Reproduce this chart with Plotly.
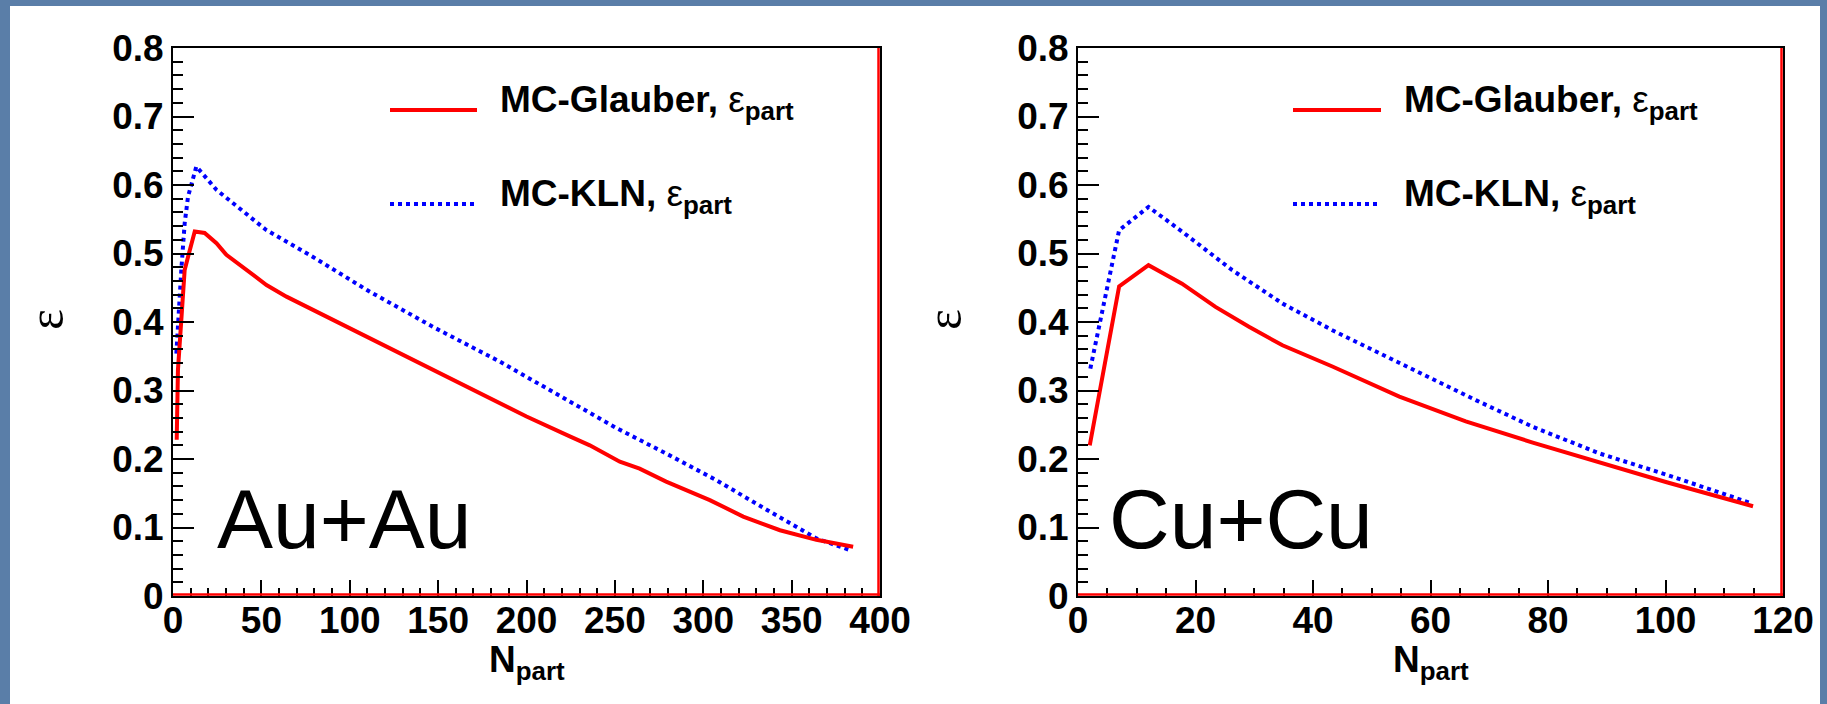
import plotly.graph_objects as go

W, H = 1827, 704

# ---------------- data ----------------
au_glauber_n = [2.1, 2.8, 4.7, 6.6, 8.5, 12.3, 17.9, 24.6, 30.2, 37.7, 45.3, 52.9, 64.2, 100, 137.7, 156.6,
                181, 200, 224.5, 235.8, 252.8, 264, 279, 303.7, 322.6, 343.4, 364, 384.8]
au_glauber_e = [0.228, 0.33, 0.403, 0.476, 0.495, 0.532, 0.53, 0.515, 0.498, 0.483, 0.469, 0.454, 0.437,
                0.391, 0.342, 0.318, 0.286, 0.262, 0.233, 0.22, 0.196, 0.186, 0.167, 0.140, 0.116,
                0.096, 0.082, 0.072]

au_kln_n = [1.9, 2.8, 4.7, 6.6, 8.5, 13.2, 24.6, 52.9, 79.2, 109.5, 147, 185, 222.6, 251, 279, 307.5,
            335.8, 364, 383]
au_kln_e = [0.354, 0.398, 0.476, 0.544, 0.583, 0.627, 0.593, 0.534, 0.495, 0.447, 0.393, 0.342, 0.286,
            0.245, 0.208, 0.169, 0.126, 0.084, 0.067]

cu_glauber_n = [2.0, 7.0, 12.0, 17.7, 23.4, 29.1, 34.8, 43.3, 54.7, 66, 77.4, 88.8, 100.2, 114.9]
cu_glauber_e = [0.22, 0.452, 0.483, 0.456, 0.422, 0.393, 0.366, 0.335, 0.291, 0.255, 0.224, 0.195, 0.166, 0.131]

cu_kln_n = [2.1, 7.0, 12.0, 17.7, 26.2, 34.8, 43.3, 54.7, 67.7, 77.4, 88.8, 100.2, 114.4]
cu_kln_e = [0.332, 0.534, 0.568, 0.532, 0.476, 0.427, 0.388, 0.340, 0.286, 0.247, 0.208, 0.177, 0.136]

x_ranges = [[0, 400], [0, 120]]
x_dticks = [50, 20]
x_minor = [10, 5]
y_range = [0, 0.8]
systems = ["Au+Au", "Cu+Cu"]
series_names = ["MC-Glauber, ε<sub>part</sub>", "MC-KLN, ε<sub>part</sub>"]

# ---------------- helpers ----------------
def px(x):
    return x / W

def py(y):
    return 1 - y / H

RED = "#ff0000"
BLUE = "#0000ff"
FONT = "Liberation Sans, Arial, sans-serif"

fig = go.Figure()

panels = [
    (au_glauber_n, au_glauber_e, au_kln_n, au_kln_e, "x", "y"),
    (cu_glauber_n, cu_glauber_e, cu_kln_n, cu_kln_e, "x2", "y2"),
]
for gn, ge, kn, ke, xa, ya in panels:
    fig.add_trace(go.Scatter(x=kn, y=ke, mode="lines", name=series_names[1], showlegend=False,
                             line=dict(color=BLUE, width=4, dash="dot"), xaxis=xa, yaxis=ya))
    fig.add_trace(go.Scatter(x=gn, y=ge, mode="lines", name=series_names[0], showlegend=False,
                             line=dict(color=RED, width=4), xaxis=xa, yaxis=ya))

x_domains = [[px(173), px(880)], [px(1078), px(1783)]]
y_domain = [py(596), py(48)]

tickfont = dict(family=FONT, size=37, color="black", weight="bold")

def xaxis(i):
    return dict(domain=x_domains[i], range=x_ranges[i], dtick=x_dticks[i], tick0=0,
                showline=True, linecolor="black", linewidth=2, mirror=True,
                ticks="inside", ticklen=16, tickwidth=1.5, tickcolor="black",
                minor=dict(dtick=x_minor[i], tick0=0, ticks="inside", ticklen=8,
                           tickwidth=1.5, tickcolor="black", showgrid=False),
                showgrid=False, zeroline=False, tickfont=tickfont, automargin=False,
                ticklabelstandoff=-9,
                anchor="y" if i == 0 else "y2", fixedrange=True)

def yaxis(i):
    return dict(domain=y_domain, range=y_range, dtick=0.1, tick0=0,
                showline=True, linecolor="black", linewidth=2, mirror=True,
                ticks="inside", ticklen=21, tickwidth=1.5, tickcolor="black",
                minor=dict(dtick=0.02, tick0=0, ticks="inside", ticklen=10,
                           tickwidth=1.5, tickcolor="black", showgrid=False),
                showgrid=False, zeroline=False, tickfont=tickfont, automargin=False,
                anchor="x" if i == 0 else "x2", fixedrange=True)

shapes = [
    # white slide panel over the blue background
    dict(type="rect", xref="paper", yref="paper", x0=px(10), x1=px(1820), y0=-0.01, y1=py(6),
         fillcolor="white", line=dict(width=0), layer="below"),
]
for i, (xa, ya) in enumerate([("x", "y"), ("x2", "y2")]):
    xr = x_ranges[i]
    # red outline on bottom and right frame
    shapes.append(dict(type="line", xref=xa, yref=ya, ysizemode="pixel", yanchor=0,
                       x0=xr[0], x1=xr[1], y0=1.5, y1=1.5, line=dict(color=RED, width=2.5)))
    shapes.append(dict(type="line", xref=xa, yref=ya, xsizemode="pixel", xanchor=xr[1],
                       x0=-1.5, x1=-1.5, y0=y_range[0], y1=y_range[1], line=dict(color=RED, width=2.5)))

# legend sample lines (per panel)
legend_lines = [(390, 477), (1293, 1381)]
legend_text_x = [498, 1402]
legend_rows = [110, 204]
for (lx0, lx1) in legend_lines:
    shapes.append(dict(type="line", xref="paper", yref="paper", x0=px(lx0), x1=px(lx1),
                       y0=py(legend_rows[0]), y1=py(legend_rows[0]), line=dict(color=RED, width=4)))
    shapes.append(dict(type="line", xref="paper", yref="paper", x0=px(lx0), x1=px(lx1),
                       y0=py(legend_rows[1]), y1=py(legend_rows[1]),
                       line=dict(color=BLUE, width=4, dash="dot")))

annotations = []
leg_labels = ["<b>MC-Glauber,</b> ε<sub><b>part</b></sub>", "<b>MC-KLN,</b> ε<sub><b>part</b></sub>"]
for tx in legend_text_x:
    for row, lab in zip(legend_rows, leg_labels):
        annotations.append(dict(xref="paper", yref="paper", x=px(tx), y=py(row - 8), text=lab,
                                xanchor="left", yanchor="middle", showarrow=False,
                                font=dict(family=FONT, size=37, color="black")))

# system labels
sys_pos = [(215, 519), (1107, 519)]
for (sx, sy), name in zip(sys_pos, systems):
    annotations.append(dict(xref="paper", yref="paper", x=px(sx), y=py(sy), text=name,
                            xanchor="left", yanchor="middle", showarrow=False,
                            font=dict(family=FONT, size=84, color="black")))

# axis titles
for cx, ex in [((173 + 880) / 2, 46), ((1078 + 1783) / 2, 944)]:
    annotations.append(dict(xref="paper", yref="paper", x=px(cx), y=py(662), text="N<sub>part</sub>",
                            xanchor="center", yanchor="middle", showarrow=False,
                            font=dict(family=FONT, size=37, color="black", weight="bold")))
    annotations.append(dict(xref="paper", yref="paper", x=px(ex), y=py(320), text="ε",
                            textangle=-90, xanchor="center", yanchor="middle", showarrow=False,
                            font=dict(family="Liberation Serif, serif", size=50, color="black")))

fig.update_layout(
    width=W, height=H,
    margin=dict(l=0, r=0, t=0, b=0, pad=0, autoexpand=False),
    paper_bgcolor="#5a7ea8",
    plot_bgcolor="white",
    showlegend=False,
    xaxis=xaxis(0), yaxis=yaxis(0), xaxis2=xaxis(1), yaxis2=yaxis(1),
    shapes=shapes, annotations=annotations,
)

fig.write_html("out.html")
